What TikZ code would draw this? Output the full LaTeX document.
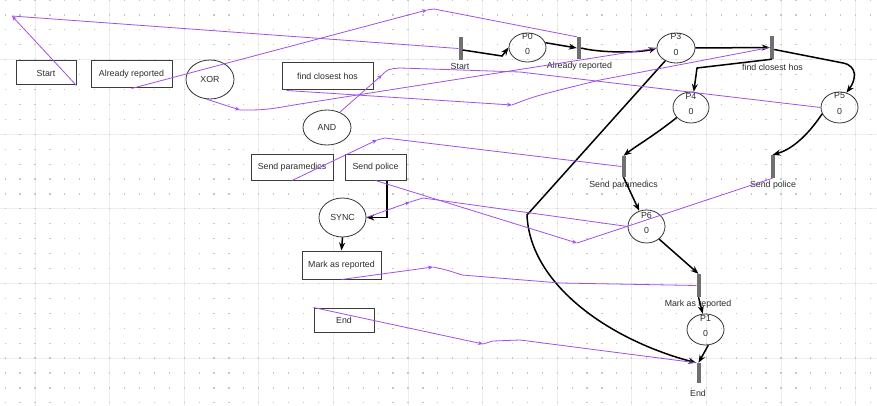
\documentclass[tikz,border=0pt]{standalone}
\usepackage{fontspec}
\setmainfont{Liberation Sans}
\usetikzlibrary{arrows.meta,shapes.geometric}
\definecolor{mapc}{RGB}{160,82,230}
\definecolor{gridmaj}{RGB}{238,238,238}
\definecolor{griddot}{RGB}{198,198,198}
\definecolor{barc}{RGB}{112,112,112}
\definecolor{edgec}{RGB}{60,60,60}
\definecolor{txtc}{RGB}{45,45,45}
\begin{document}
\begin{tikzpicture}[x={(1pt,0)}, y={(0,-1pt)},
  font=\fontsize{8.8}{10}\selectfont,
  wbox/.style={draw=edgec, fill=white, line width=1pt, inner sep=0pt, text=txtc},
  wgate/.style={ellipse, draw=black!80, fill=white, line width=0.8pt, inner sep=0pt, text=txtc},
  place/.style={ellipse, draw=black!80, line width=0.8pt, inner sep=0pt},
  trans/.style={rectangle, fill=barc, minimum width=4pt, inner sep=0pt},
  plabel/.style={text=txtc, inner sep=0pt},
  mapl/.style={draw=mapc, line width=0.8pt},
  mtip/.style={-{Stealth[length=5pt,width=4pt]}},
  arc/.style={draw=black, line width=1.5pt, -{Stealth[length=8pt,width=6pt]}},
  arcn/.style={draw=black, line width=1.5pt}
]
\useasboundingbox (0,0) rectangle (877,406);
\fill[white] (0,0) rectangle (877,406);
% grid
\foreach \i in {0,...,11} \draw[gridmaj, line width=1pt] ({35+74.6*\i},0) -- ({35+74.6*\i},406);
\foreach \j in {0,...,4} \draw[gridmaj, line width=1pt] (0,{59.6+74.6*\j}) -- (877,{59.6+74.6*\j});
\foreach \i in {0,...,58} \foreach \j in {0,...,27}
  \fill[griddot] ({5.16+14.92*\i-0.6},{14.92*\j-0.6}) rectangle +(1.2,1.2);

% left workflow
\node[wbox, minimum width=60pt, minimum height=24pt] (bStart) at (46,73) {Start};
\node[wbox, minimum width=81pt, minimum height=27pt] (bAR) at (131.5,74.5) {Already reported};
\node[wgate, minimum width=48pt, minimum height=39pt] (bXOR) at (210,79.5) {XOR};
\node[wbox, minimum width=91pt, minimum height=27pt] (bFind) at (327.5,76.5) {find closest hos};
\node[wgate, minimum width=48pt, minimum height=35pt] (bAND) at (327,127.5) {AND};
\node[wbox, minimum width=82pt, minimum height=25pt] (bPara) at (292,167.5) {Send paramedics};
\node[wbox, minimum width=61pt, minimum height=25pt] (bPol) at (375.5,167.5) {Send police};
\node[wgate, minimum width=47pt, minimum height=39pt] (bSYNC) at (342.5,217.5) {SYNC};
\node[wbox, minimum width=79pt, minimum height=28pt] (bMark) at (341.5,265) {Mark as reported};
\node[wbox, minimum width=60pt, minimum height=24pt] (bEnd) at (344,320) {End};

\draw[arc] ([xshift=11.5pt]bPol.south) |- (bSYNC.east);
\draw[arc] (bSYNC.south) -- (bMark.north);

% petri net transitions
\node[trans, minimum height=23pt] (tStart) at (460.5,48.5) {};
\node[trans, minimum height=22pt] (tAR) at (579,48) {};
\node[trans, minimum height=23pt] (tFind) at (772,47.5) {};
\node[trans, minimum height=21pt] (tPara) at (623.5,166.5) {};
\node[trans, minimum height=23pt] (tPol) at (772.5,166.5) {};
\node[trans, minimum height=23pt] (tMark) at (698.5,285.5) {};
\node[trans, minimum height=20pt] (tEnd) at (698.5,373) {};

\node[plabel] (lStart) at (460,66) {Start};
\node[plabel] (lAR) at (579.5,66) {Already reported};
\node[plabel] (lFind) at (772.5,67) {find closest hos};
\node[plabel] (lPara) at (623.5,185) {Send paramedics};
\node[plabel] (lPol) at (773,185) {Send police};
\node[plabel] (lMark) at (698,304) {Mark as reported};
\node[plabel] (lEnd) at (698,393) {End};

% places
\node[place, minimum width=37pt, minimum height=29pt] (P0) at (527.5,47.5) {};
\node[place, minimum width=38pt, minimum height=30pt] (P3) at (676,48) {};
\node[place, minimum width=36pt, minimum height=31pt] (P4) at (691,107.5) {};
\node[place, minimum width=37pt, minimum height=31pt] (P5) at (839.5,107.5) {};
\node[place, minimum width=37pt, minimum height=33pt] (P6) at (646.5,226.5) {};
\node[place, minimum width=37pt, minimum height=31pt] (P1) at (705.5,329.5) {};
\foreach \p/\t in {P0/P0,P3/P3,P4/P4,P5/P5,P6/P6,P1/P1}{
  \node[plabel] (\p n) at ([yshift=11.5pt]\p.center) {\t};
  \node[plabel] (\p m) at ([yshift=-4pt]\p.center) {0};
}

% petri arcs
\draw[arc] ([yshift=-1.5pt]tStart.east) -- (502,56) -- (P0.west);
\draw[arc] (P0.15) -- (tAR.west);
\draw[arc] (tAR.east) .. controls (600,53) and (640,53) .. (P3.west);
\draw[arc] (P3.east) -- (tFind.west);
\draw[arc] (tFind.south) -- (697,68) -- (P4.80);
\draw[arc] ([yshift=-2pt]tFind.east) -- (843,63) .. controls (858,66) and (856,80) .. (P5.65);
\draw[arc] (P4.-145) .. controls (655,135) and (636,146) .. (tPara.north);
\draw[arc] (P5.-160) .. controls (806,138) and (790,150) .. (tPol.north);
\draw[arc] (tPara.south) -- (P6.115);
\draw[arc] (P6.-45) -- (tMark.north);
\draw[arc] (tMark.south) -- (P1.100);
\draw[arc] (P1.-80) -- (tEnd.north);
\draw[arc] (P3.-130) -- (527,215) .. controls (530,285) and (610,340) .. (tEnd.north west);

% mapping lines
\coordinate (mS) at (12,16);
\coordinate (mAR) at (427,10);
\coordinate (mX) at (240,110);
\coordinate (mF) at (512,105);
\coordinate (mA) at (382,75);
\coordinate (mP) at (377,140);
\coordinate (mPo) at (577,243);
\coordinate (mSy) at (410,202);
\coordinate (mM) at (433,267);
\coordinate (mE) at (483,344);

\draw[mapl,mtip] (bStart.south east) -- (mS);
\draw[mapl] (mS) -- (tStart.west);
\draw[mapl,mtip] (bAR.south) -- (mAR);
\draw[mapl] (mAR) -- (434,9) -- (tAR.north west);
\draw[mapl,mtip] (bXOR.-100) -- (mX);
\draw[mapl] (mX) .. controls (265,110) .. (300,104) -- (P3.west);
\draw[mapl,mtip] ([xshift=5pt]bFind.south west) -- (mF);
\draw[mapl] (mF) .. controls (535,96) .. (600,80) -- (tFind.west);
\draw[mapl,mtip] (bAND.50) -- (mA);
\draw[mapl] (mA) .. controls (388,69) .. (400,68) -- (520,72) -- (P5.west);
\draw[mapl,mtip] (bPara.south) -- (mP);
\draw[mapl] (mP) -- (385,138) -- (tPara.west);
\draw[mapl,mtip] (bPol.south) -- (mPo);
\draw[mapl] (mPo) -- (tPol.south);
\draw[mapl,mtip] (bSYNC.east) -- (mSy);
\draw[mapl] (mSy) -- (423,198) -- (P6.west);
\draw[mapl,mtip] (bMark.south) -- (mM);
\draw[mapl] (mM) .. controls (447,270) .. (462,275) -- (560,283) -- (tMark.west);
\draw[mapl,mtip] (bEnd.north west) -- (mE);
\draw[mapl] (mE) -- (493,341) -- (520,340) -- (tEnd.north west);
\end{tikzpicture}
\end{document}
